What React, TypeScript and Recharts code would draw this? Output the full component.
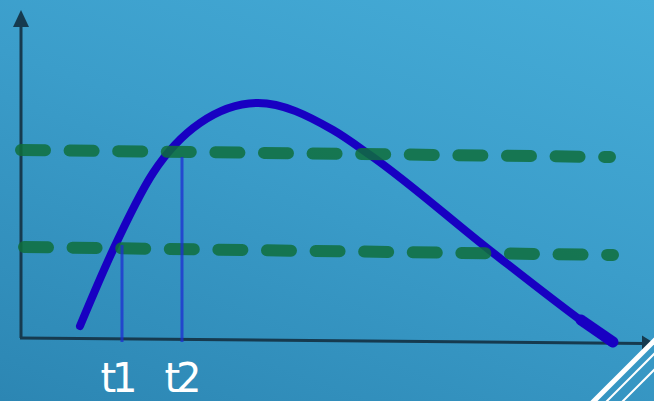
import { ComposedChart, Line, ReferenceDot, ReferenceLine, XAxis, YAxis } from "recharts";

// the curve, in units measured from the axes' origin
const curveX = [59, 92, 132, 179, 237, 312, 349, 471, 562, 591];
const curveY = [12, 88, 165, 215, 235, 208, 183, 86, 16, -5];

// thicker retrace at the tail of the curve
const tailX = [560, 592];
const tailY = [18, -4];

// the two dashed levels (start, end)
const upperX = [0, 589];
const upperY = [188, 181];
const lowerX = [3, 592];
const lowerY = [91, 83];

// moments t1, t2 and the height each drop line reaches
const markNames = ["t1", "t2"];
const markX = [101, 161];
const markTop = [93, 181];
const markBottom = -4;

// axes
const yAxisTop = 322;
const xAxisEnd = { x: 624, y: -5.5 };

const AXIS = "#163a4f";
const CURVE = "#1800c2";
const LEVEL = "#0f6e3c";
const DROP = "rgba(30, 45, 210, 0.75)";
const FONT = "'DejaVu Sans', sans-serif";
const LABEL_DX = [-5, -1];

const toPoints = (xs: number[], ys: number[]) => xs.map((x, i) => ({ x, y: ys[i] }));

const curve = toPoints(curveX, curveY);
const tail = toPoints(tailX, tailY);
const upper = toPoints(upperX, upperY);
const lower = toPoints(lowerX, lowerY);

const UpArrow = ({ cx, cy }: { cx: number; cy: number }) => (
  <polygon points={`${cx},${cy - 1} ${cx - 8},${cy + 16} ${cx + 8},${cy + 16}`} fill={AXIS} />
);

const RightArrow = ({ cx, cy }: { cx: number; cy: number }) => (
  <polygon points={`${cx + 10},${cy} ${cx - 3},${cy - 8} ${cx - 3},${cy + 8}`} fill={AXIS} />
);

export default function App() {
  return (
    <div
      style={{
        position: "absolute",
        left: 0,
        top: 0,
        width: 654,
        height: 401,
        overflow: "hidden",
        background: "linear-gradient(200deg, #46add8 0%, #3b9dca 45%, #2c86b3 100%)",
      }}
    >
      <ComposedChart width={654} height={401} margin={{ top: 0, right: 0, bottom: 0, left: 0 }}>
        <XAxis type="number" dataKey="x" domain={[-21, 633]} hide allowDataOverflow />
        <YAxis type="number" dataKey="y" domain={[-63, 338]} hide allowDataOverflow />

        <ReferenceLine
          segment={[{ x: 0, y: 0 }, { x: 0, y: yAxisTop }]}
          stroke={AXIS}
          strokeWidth={3}
          ifOverflow="visible"
        />
        <ReferenceLine
          segment={[{ x: -1, y: 0 }, xAxisEnd]}
          stroke={AXIS}
          strokeWidth={3}
          ifOverflow="visible"
        />
        <ReferenceDot x={0} y={327} r={0} ifOverflow="visible" shape={UpArrow} />
        <ReferenceDot x={xAxisEnd.x} y={xAxisEnd.y} r={0} ifOverflow="visible" shape={RightArrow} />

        <Line
          data={curve}
          dataKey="y"
          type="monotone"
          stroke={CURVE}
          strokeWidth={8}
          strokeLinecap="round"
          dot={false}
          activeDot={false}
          isAnimationActive={false}
        />
        <Line
          data={tail}
          dataKey="y"
          type="linear"
          stroke={CURVE}
          strokeWidth={11}
          strokeLinecap="round"
          dot={false}
          activeDot={false}
          isAnimationActive={false}
        />

        {[upper, lower].map((level, i) => (
          <Line
            key={i}
            data={level}
            dataKey="y"
            type="linear"
            stroke={LEVEL}
            strokeOpacity={0.85}
            strokeWidth={12}
            strokeLinecap="round"
            strokeDasharray="24 24.6"
            dot={false}
            activeDot={false}
            isAnimationActive={false}
          />
        ))}

        {markNames.map((name, i) => (
          <ReferenceLine
            key={name}
            segment={[
              { x: markX[i], y: markTop[i] },
              { x: markX[i], y: markBottom },
            ]}
            stroke={DROP}
            strokeWidth={3}
            ifOverflow="visible"
            label={{
              value: name,
              position: "bottom",
              offset: 22,
              dx: LABEL_DX[i],
              fill: "#ffffff",
              fontSize: 40,
              fontFamily: FONT,
              letterSpacing: -4,
            }}
          />
        ))}
      </ComposedChart>

      <svg
        width={654}
        height={401}
        style={{ position: "absolute", left: 0, top: 0, pointerEvents: "none" }}
      >
        <line x1={592} y1={403} x2={656} y2={339} stroke="#ffffff" strokeWidth={5} />
        <line x1={605} y1={403} x2={656} y2={352} stroke="#ffffff" strokeWidth={2} />
        <line x1={621} y1={403} x2={656} y2={368} stroke="#ffffff" strokeWidth={2} />
      </svg>
    </div>
  );
}
